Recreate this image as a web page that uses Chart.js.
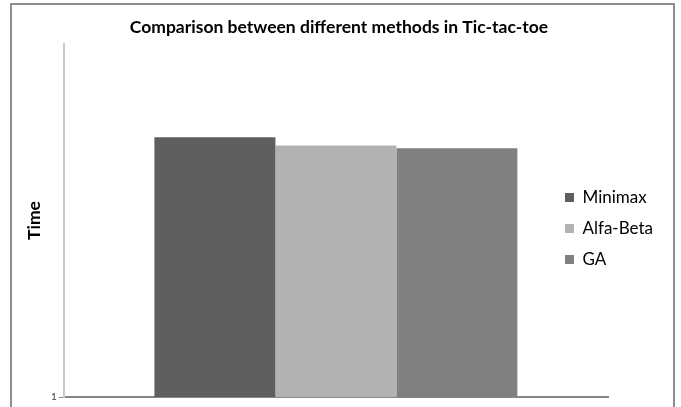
<!DOCTYPE html>
<html>
<head>
<meta charset="utf-8">
<script src="https://cdn.jsdelivr.net/npm/chart.js@4"></script>
<style>
  body { margin: 0; background: #fff; }
  #caja { position: relative; width: 681px; height: 407px; overflow: hidden; }
  #marco { position: absolute; left: 10px; top: 3px; width: 661px; height: 420px;
           border: 2px solid #8e8e8e; pointer-events: none; }
</style>
</head>
<body>
<div id="caja">
  <canvas id="grafico" width="681" height="407"></canvas>
  <div id="marco"></div>
</div>
<script>
// Datos
const categorias = ['Tic-tac-toe'];
const metodos = ['Minimax', 'Alfa-Beta', 'GA'];
const tiempos = [880, 710, 660];
const colores = ['#5f5f5f', '#b2b2b2', '#7f807f'];
const ticksY = [1];

const fuente = 'Lato, "Open Sans", sans-serif';

// leyenda dentro del area del grafico (derecha) y titulo centrado en todo el ancho
const ajusteCajas = {
  id: 'ajusteCajas',
  afterLayout(chart) {
    const lg = chart.legend;
    const w = lg.right - lg.left, h = lg.bottom - lg.top;
    lg.left = 551; lg.right = 551 + w;
    lg.top = 52; lg.bottom = 52 + h;
    const t = chart.titleBlock;
    t.left = 0; t.right = 678; t.width = 678;
  }
};

const ctx = document.getElementById('grafico').getContext('2d');
const grafico = new Chart(ctx, {
  type: 'bar',
  data: {
    labels: categorias,
    datasets: metodos.map((m, i) => ({
      label: m,
      data: [tiempos[i]],
      backgroundColor: colores[i],
      categoryPercentage: 0.667,
      barPercentage: 1
    }))
  },
  options: {
    responsive: false,
    animation: false,
    layout: { padding: { left: 20, right: 73, top: 0, bottom: 2 } },
    plugins: {
      title: {
        display: true,
        text: 'Comparison between different methods in Tic-tac-toe',
        color: '#000',
        font: { family: fuente, size: 17.5, weight: 'bold' },
        padding: { top: 16.5, bottom: 6.5 }
      },
      legend: {
        position: 'chartArea',
        labels: {
          color: '#000',
          font: { family: fuente, size: 17 },
          boxWidth: 9, boxHeight: 9,
          padding: 14
        }
      },
      tooltip: { enabled: false }
    },
    scales: {
      x: {
        ticks: { display: false },
        grid: { display: false },
        border: { color: '#868686', width: 2 }
      },
      y: {
        type: 'logarithmic',
        min: 1,
        max: 10000,
        afterBuildTicks: axis => { axis.ticks = ticksY.map(v => ({ value: v })); },
        ticks: { color: '#404040', font: { family: fuente, size: 10 }, padding: 2 },
        grid: { drawOnChartArea: false, tickLength: 5, color: '#868686' },
        border: { color: '#c8c8c8', width: 2 },
        title: {
          display: true,
          text: 'Time',
          color: '#000',
          font: { family: fuente, size: 17.5, weight: 'bold' }
        }
      }
    }
  },
  plugins: [ajusteCajas]
});
</script>
</body>
</html>
